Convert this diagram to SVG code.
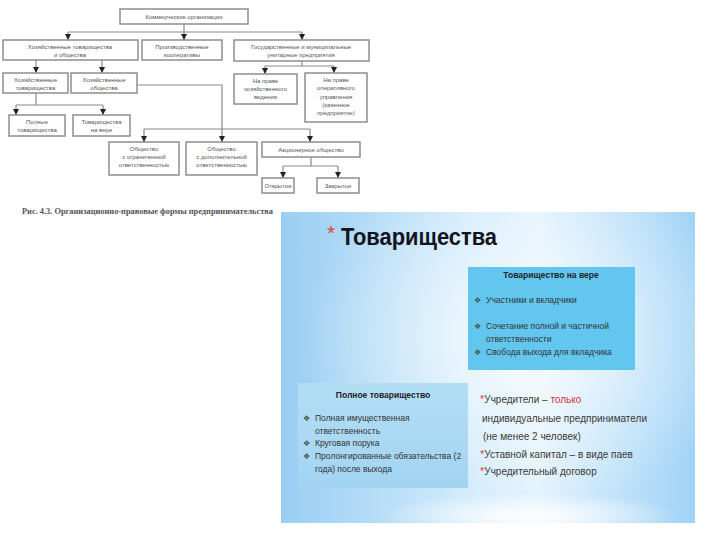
<svg xmlns="http://www.w3.org/2000/svg" width="720" height="540" viewBox="0 0 720 540">
<defs>
<marker id="ah" markerUnits="userSpaceOnUse" markerWidth="6" markerHeight="6" refX="6" refY="3" orient="auto" viewBox="0 0 6 6">
<path d="M0,0 L6,3 L0,6 Z" fill="#222"/>
</marker>
<linearGradient id="bg" x1="0" y1="0" x2="1" y2="0">
<stop offset="0" stop-color="#99cef3"/>
<stop offset="0.45" stop-color="#d2ebfb"/>
<stop offset="0.62" stop-color="#e2f2fd"/>
<stop offset="1" stop-color="#a0d3f6"/>
</linearGradient>
<radialGradient id="glow" cx="0.6" cy="0.4" r="0.55">
<stop offset="0" stop-color="#ffffff" stop-opacity="0.75"/>
<stop offset="1" stop-color="#ffffff" stop-opacity="0"/>
</radialGradient>
<radialGradient id="arc" cx="0.5" cy="0.5" r="0.5">
<stop offset="0" stop-color="#ffffff" stop-opacity="0.95"/>
<stop offset="1" stop-color="#ffffff" stop-opacity="0"/>
</radialGradient>
<linearGradient id="pt" x1="0" y1="0" x2="0" y2="1">
<stop offset="0" stop-color="#b3def6"/>
<stop offset="1" stop-color="#a2d4f2"/>
</linearGradient>
<style>
.box{fill:#fff;stroke:#8e8e8e;stroke-width:1.5}
.t{font-family:"Liberation Sans",Arial,sans-serif;font-size:6px;fill:#555;text-anchor:middle}
.ln{fill:none;stroke:#8a8a8a;stroke-width:1.2}
.bt{font-family:"Liberation Sans",Arial,sans-serif;font-size:8.5px;fill:#333}
.bh{font-family:"Liberation Sans",Arial,sans-serif;font-size:8.5px;font-weight:bold;fill:#222;text-anchor:middle}
.bul{font-family:"DejaVu Sans",sans-serif;font-size:8px;fill:#3a5a4a}
.rt{font-family:"Liberation Sans",Arial,sans-serif;font-size:10px;fill:#3a3a3a}
.ast{fill:#e0404a}
</style>
</defs>
<rect width="720" height="540" fill="#fff"/>

<g id="connectors">
<path class="ln" d="M184,24 V32 M68,32 H302"/>
<path class="ln" d="M68,32 V40" marker-end="url(#ah)"/>
<path class="ln" d="M184,32 V40" marker-end="url(#ah)"/>
<path class="ln" d="M302,32 V40" marker-end="url(#ah)"/>
<path class="ln" d="M36,60 V73" marker-end="url(#ah)"/>
<path class="ln" d="M102,60 V73" marker-end="url(#ah)"/>
<path class="ln" d="M36,93 V105 M16,105 H103"/>
<path class="ln" d="M16,105 V115" marker-end="url(#ah)"/>
<path class="ln" d="M103,105 V115" marker-end="url(#ah)"/>
<path class="ln" d="M137,85 H222 V142" marker-end="url(#ah)"/>
<path class="ln" d="M144,129 H310"/>
<path class="ln" d="M144,129 V142" marker-end="url(#ah)"/>
<path class="ln" d="M310,129 V142" marker-end="url(#ah)"/>
<path class="ln" d="M302,61 V66 M265,66 H334"/>
<path class="ln" d="M265,66 V74" marker-end="url(#ah)"/>
<path class="ln" d="M334,66 V73" marker-end="url(#ah)"/>
<path class="ln" d="M311,157 V166 M283,166 H338"/>
<path class="ln" d="M283,166 V178" marker-end="url(#ah)"/>
<path class="ln" d="M338,166 V178" marker-end="url(#ah)"/>
</g>

<g id="komm"><rect class="box" x="120" y="9" width="128" height="15"/><text class="t" x="184" y="19">Коммерческие организации</text></g>
<g id="hoz_to"><rect class="box" x="3" y="40" width="135" height="20"/><text class="t" x="70" y="48.5">Хозяйственные товарищества</text><text class="t" x="70" y="56.5">и общества</text></g>
<g id="proizv"><rect class="box" x="142" y="40" width="80" height="20"/><text class="t" x="182" y="48.5">Производственные</text><text class="t" x="182" y="56.5">кооперативы</text></g>
<g id="gos"><rect class="box" x="234" y="40" width="135" height="21"/><text class="t" x="301" y="48.5">Государственные и муниципальные</text><text class="t" x="301" y="57">унитарные предприятия</text></g>
<g id="hoz_tov"><rect class="box" x="3" y="73" width="65" height="20"/><text class="t" x="35.5" y="81.5">Хозяйственные</text><text class="t" x="35.5" y="89.5">товарищества</text></g>
<g id="hoz_ob"><rect class="box" x="71" y="73" width="66" height="20"/><text class="t" x="104" y="81.5">Хозяйственные</text><text class="t" x="104" y="89.5">общества</text></g>
<g id="poln"><rect class="box" x="9" y="115" width="56" height="21"/><text class="t" x="37" y="124">Полные</text><text class="t" x="37" y="132">товарищества</text></g>
<g id="vera"><rect class="box" x="73" y="115" width="57" height="21"/><text class="t" x="101.5" y="124">Товарищества</text><text class="t" x="101.5" y="132">на вере</text></g>
<g id="hoz_ved"><rect class="box" x="234" y="74" width="63" height="30"/><text class="t" x="265.5" y="83">На праве</text><text class="t" x="265.5" y="91">хозяйственного</text><text class="t" x="265.5" y="99">ведения</text></g>
<g id="oper"><rect class="box" x="305" y="73" width="62" height="49"/><text class="t" x="336" y="82">На праве</text><text class="t" x="336" y="90">оперативного</text><text class="t" x="336" y="98.5">управления</text><text class="t" x="336" y="107">(казенное</text><text class="t" x="336" y="115">предприятие)</text></g>
<g id="ooo"><rect class="box" x="109" y="142" width="70" height="33"/><text class="t" x="144" y="151">Общество</text><text class="t" x="144" y="159">с ограниченной</text><text class="t" x="144" y="167">ответственностью</text></g>
<g id="odo"><rect class="box" x="186" y="142" width="71" height="33"/><text class="t" x="221.5" y="151">Общество</text><text class="t" x="221.5" y="159">с дополнительной</text><text class="t" x="221.5" y="167">ответственностью</text></g>
<g id="ao"><rect class="box" x="262" y="142" width="98" height="15"/><text class="t" x="311" y="152">Акционерное общество</text></g>
<g id="otkr"><rect class="box" x="262" y="178" width="32" height="15"/><text class="t" x="278" y="188">Открытое</text></g>
<g id="zakr"><rect class="box" x="317" y="178" width="42" height="15"/><text class="t" x="338" y="188">Закрытое</text></g>

<text x="22" y="214" font-family="Liberation Serif,serif" font-size="9" font-weight="bold" fill="#555" textLength="251" lengthAdjust="spacingAndGlyphs">Рис. 4.3. Организационно-правовые формы предпринимательства</text>

<g id="panel">
<rect x="281" y="212" width="414" height="311" fill="url(#bg)"/>
<rect x="281" y="212" width="414" height="311" fill="url(#glow)"/>
<ellipse cx="530" cy="515" rx="150" ry="22" fill="url(#arc)"/>
<text x="327" y="240" font-family="Liberation Sans,Arial,sans-serif" font-size="21" fill="#e0404a">*</text>
<text x="341" y="245" font-family="Liberation Sans,Arial,sans-serif" font-size="24" font-weight="bold" fill="#141420" textLength="156" lengthAdjust="spacingAndGlyphs">Товарищества</text>
</g>

<g id="vera_box">
<rect x="468" y="267" width="167" height="103" fill="#62c6ef"/>
<text class="bh" x="551" y="278">Товарищество на вере</text>
<text class="bul" x="474" y="303">❖</text><text class="bt" x="486" y="303">Участники и вкладчики</text>
<text class="bul" x="474" y="329">❖</text><text class="bt" x="486" y="329">Сочетание полной и частичной</text>
<text class="bt" x="486" y="342">ответственности</text>
<text class="bul" x="474" y="355">❖</text><text class="bt" x="486" y="355">Свобода выхода для вкладчика</text>
</g>

<g id="poln_box">
<rect x="298" y="383" width="170" height="105" fill="url(#pt)"/>
<text class="bh" x="383" y="398">Полное товарищество</text>
<text class="bul" x="303" y="421">❖</text><text class="bt" x="315" y="421">Полная имущественная</text>
<text class="bt" x="315" y="434">ответственность</text>
<text class="bul" x="303" y="446">❖</text><text class="bt" x="315" y="446">Круговая порука</text>
<text class="bul" x="303" y="459">❖</text><text class="bt" x="315" y="459">Пролонгированные обязательства (2</text>
<text class="bt" x="315" y="472">года) после выхода</text>
</g>

<g id="right_text">
<text class="rt" x="480" y="403"><tspan class="ast" font-size="11">*</tspan>Учредители – <tspan fill="#d4303a">только</tspan></text>
<text class="rt" x="482" y="422">индивидуальные предприниматели</text>
<text class="rt" x="483" y="440">(не менее 2 человек)</text>
<text class="rt" x="480" y="458"><tspan class="ast" font-size="11">*</tspan>Уставной капитал – в виде паев</text>
<text class="rt" x="480" y="475"><tspan class="ast" font-size="11">*</tspan>Учредительный договор</text>
</g>
</svg>
